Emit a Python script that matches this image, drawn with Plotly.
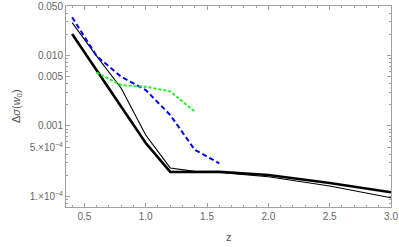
"""Delta sigma(w0) vs z, log scale"""
import plotly.graph_objects as go

z_thick = [0.4, 0.6, 0.8, 1.0, 1.2, 1.4, 1.6, 2.0, 2.5, 3.0]
ds_thick = [0.0202, 0.0062, 0.00189, 0.000574, 0.000223, 0.000226, 0.000224, 0.000202, 0.000155, 0.000115]

z_thin = [0.4, 0.6, 0.8, 1.0, 1.2, 1.4, 1.6, 2.0, 2.5, 3.0]
ds_thin = [0.0292, 0.0098, 0.00343, 0.000745, 0.000254, 0.000227, 0.00022, 0.000191, 0.000141, 0.000096]

z_blue = [0.4, 0.6, 0.8, 1.0, 1.2, 1.4, 1.6]
ds_blue = [0.0348, 0.0098, 0.0050, 0.00324, 0.00143, 0.00046, 0.000295]

z_green = [0.6, 0.8, 1.0, 1.2, 1.4]
ds_green = [0.0057, 0.0038, 0.0036, 0.0031, 0.0016]

y_tickvals = [1e-4, 5e-4, 1e-3, 5e-3, 1e-2, 5e-2]
y_ticktext = ['1.\u00d710<sup>\u22124</sup>', '5.\u00d710<sup>\u22124</sup>', '0.001', '0.005', '0.010', '0.050']
x_tickvals = [0.5, 1.0, 1.5, 2.0, 2.5, 3.0]
x_ticktext = ['0.5', '1.0', '1.5', '2.0', '2.5', '3.0']

y_minor = [m * 10 ** e for e in (-5, -4, -3, -2) for m in range(1, 10)]
x_minor = [round(0.3 + 0.1 * i, 1) for i in range(28)]

fig = go.Figure()

fig.add_trace(go.Scatter(x=z_thick, y=ds_thick, mode='lines',
                         line=dict(color='black', width=2.6)))
fig.add_trace(go.Scatter(x=z_thin, y=ds_thin, mode='lines',
                         line=dict(color='black', width=1.1)))
fig.add_trace(go.Scatter(x=z_blue, y=ds_blue, mode='lines',
                         line=dict(color='#0000ff', width=2, dash='5px,3px')))
fig.add_trace(go.Scatter(x=z_green, y=ds_green, mode='lines',
                         line=dict(color='#22ee22', width=2, dash='3px,2px')))

axis_common = dict(
    showline=True, linecolor='#a0a0a0', linewidth=1, mirror='ticks',
    ticks='inside', ticklen=4, tickcolor='#a0a0a0', showgrid=False, zeroline=False,
    automargin=False,
    tickfont=dict(family='Liberation Sans, Arial, sans-serif', size=10, color='#666666'),
)

fig.update_xaxes(range=[0.35, 3.0], tickvals=x_tickvals, ticktext=x_ticktext,
                 minor=dict(tickvals=x_minor, ticks='inside', ticklen=2, tickcolor='#a0a0a0'),
                 **axis_common)
fig.update_yaxes(type='log', range=[-4.149, -1.298], tickvals=y_tickvals, ticktext=y_ticktext,
                 minor=dict(tickvals=y_minor, ticks='inside', ticklen=2, tickcolor='#a0a0a0'),
                 **axis_common)

fig.add_annotation(text='\u0394<i>\u03c3</i>(<i>w</i><sub>0</sub>)', xref='paper', yref='paper',
                   x=-0.18, y=0.5, textangle=-90, showarrow=False,
                   font=dict(family='Liberation Sans, Arial, sans-serif', size=11, color='#555555'))
fig.add_annotation(text='z', xref='paper', yref='paper', x=0.5, y=-0.11, yanchor='top',
                   showarrow=False,
                   font=dict(family='Liberation Sans, Arial, sans-serif', size=11, color='#555555'))

fig.update_layout(
    width=399, height=247,
    margin=dict(l=66, r=8, t=6, b=40),
    showlegend=False,
    template='plotly_white',
    plot_bgcolor='white', paper_bgcolor='white',
)

# page body has a default 8px margin; drop it so the figure fills the window
fig.write_html("out.html", config={'displayModeBar': False},
               post_script="document.body.style.margin='0';")
